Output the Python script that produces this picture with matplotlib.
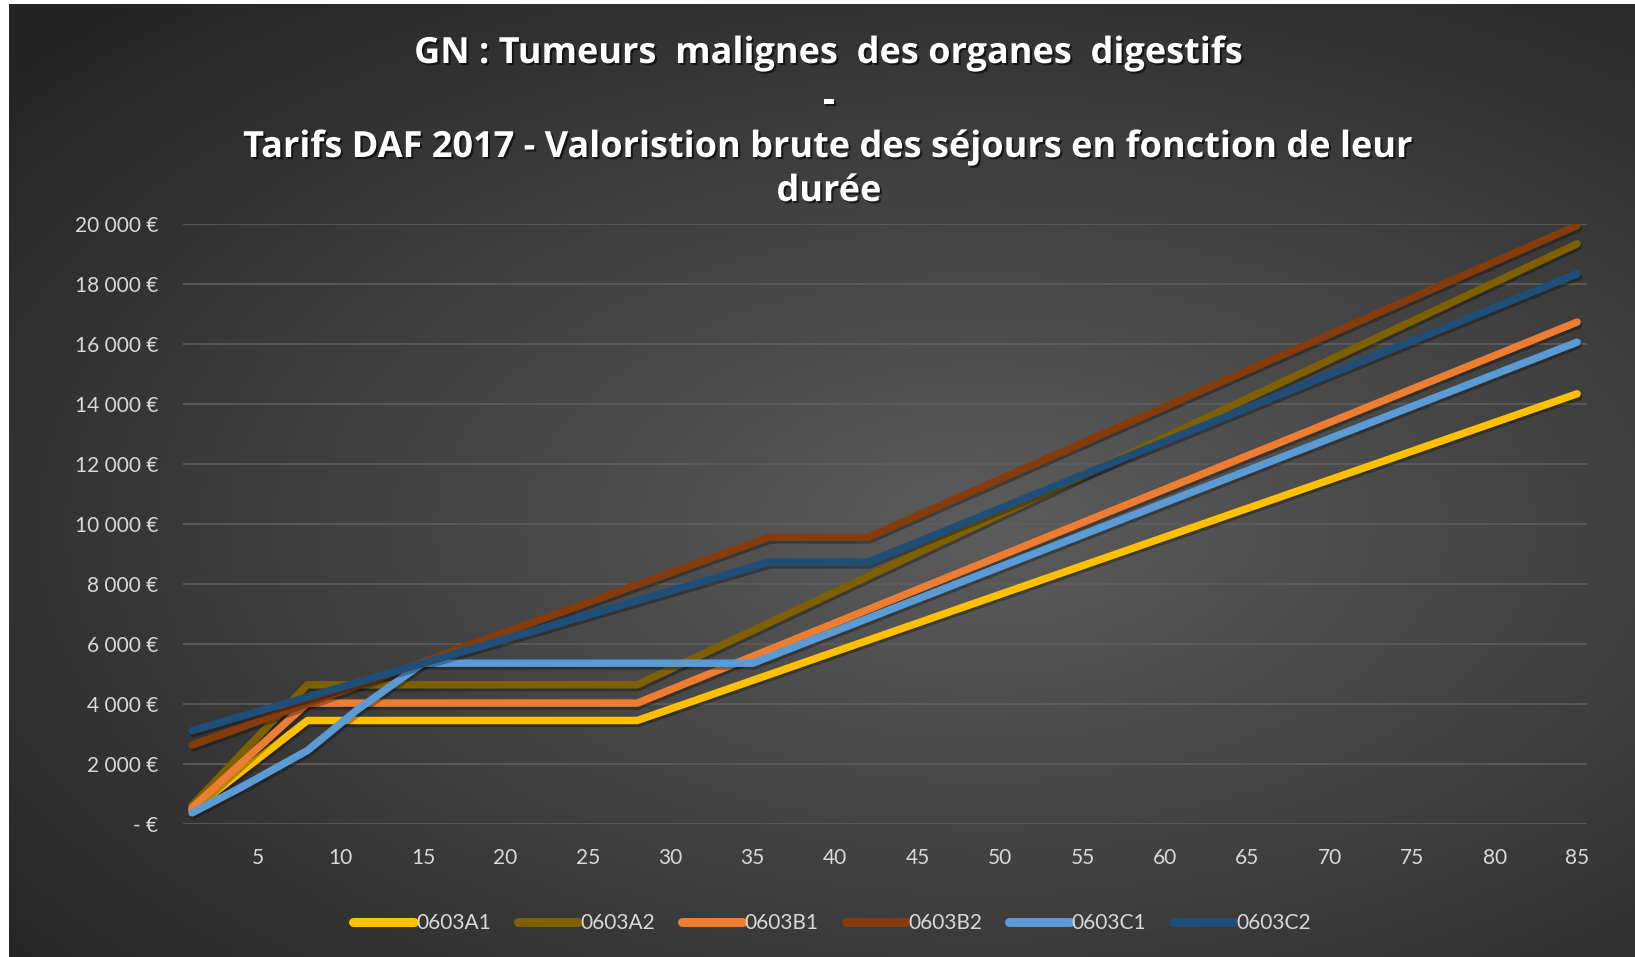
import numpy as np
import matplotlib
matplotlib.use('Agg')
import matplotlib.pyplot as plt
import matplotlib.patheffects as pe
from matplotlib.ticker import FuncFormatter

# values (euros), at the days where each line bends
series_names = ['0603A1', '0603A2', '0603B1', '0603B2', '0603C1', '0603C2']
days_A1 = [1, 8, 28, 85]
vals_A1 = [470, 3450, 3450, 14340]
days_A2 = [1, 8, 28, 85]
vals_A2 = [620, 4640, 4640, 19340]
days_B1 = [1, 8, 28, 85]
vals_B1 = [540, 4030, 4030, 16730]
days_B2 = [1, 36, 42, 85]
vals_B2 = [2630, 9560, 9560, 19950]
days_C1 = [1, 4, 8, 11, 15, 35, 85]
vals_C1 = [370, 1230, 2450, 3800, 5360, 5360, 16060]
days_C2 = [1, 36, 42, 85]
vals_C2 = [3110, 8730, 8730, 18340]

x_ticks = list(range(5, 90, 5))
y_ticks = list(range(0, 20001, 2000))

colors = ['#FFC000', '#7F6000', '#ED7D31', '#843C0C', '#5B9BD5', '#1F4E79']

W, H = 1635, 957
fig = plt.figure(figsize=(W / 100, H / 100), dpi=100)
fig.patch.set_facecolor('white')

# dark radial background like the Excel style
bg = fig.add_axes([9 / W, 0, 1 - 9 / W, 1 - 4 / H])
bg.set_axis_off()
yy, xx = np.mgrid[0:1:300j, 0:1:520j]
d = np.sqrt(((xx - 0.6) / 0.8) ** 2 + ((yy - 0.55) / 0.75) ** 2)
g = np.clip(1 - d, 0, 1)
shade = 0.14 + 0.22 * g
img = np.dstack([shade, shade, shade])
bg.imshow(img, aspect='auto', extent=[0, 1, 0, 1], interpolation='bilinear')
bg.set_xlim(0, 1)
bg.set_ylim(0, 1)

ax = fig.add_axes([183 / W, 1 - 824 / H, (1587 - 183) / W, (824 - 224) / H])
ax.patch.set_alpha(0)

shadow = [pe.SimpleLineShadow(offset=(1, -2), shadow_color='black', alpha=0.3), pe.Normal()]
all_days = [days_A1, days_A2, days_B1, days_B2, days_C1, days_C2]
all_vals = [vals_A1, vals_A2, vals_B1, vals_B2, vals_C1, vals_C2]
for name, dd, vv, c in zip(series_names, all_days, all_vals, colors):
    ax.plot(dd, vv, color=c, lw=5.4, label=name, solid_capstyle='round',
            solid_joinstyle='round', path_effects=shadow, zorder=3)

ax.set_xlim(0.45, 85.6)
ax.set_ylim(0, 20000)
ax.set_xticks(x_ticks)
ax.set_yticks(y_ticks)

def euro(v, pos):
    if v == 0:
        return '- €'
    return '{:,.0f} €'.format(v).replace(',', ' ')

ax.yaxis.set_major_formatter(FuncFormatter(euro))
ax.tick_params(axis='both', length=0, colors='#d9d9d9', labelsize=15)
ax.tick_params(axis='y', pad=18)
ax.tick_params(axis='x', pad=17)
for lab in ax.get_xticklabels() + ax.get_yticklabels():
    lab.set_family(['Lato', 'DejaVu Sans'])
ax.grid(axis='y', color='#5e5e5e', lw=1.2, zorder=0)
ax.set_axisbelow(True)
for s in ax.spines.values():
    s.set_visible(False)

title_fx = [pe.SimplePatchShadow(offset=(1.5, -1.5), shadow_rgbFace='black', alpha=0.6), pe.Normal()]
title_lines = ['GN : Tumeurs  malignes  des organes  digestifs', '-',
               'Tarifs DAF 2017 - Valoristion brute des séjours en fonction de leur', 'durée']
title_y = [54, 102, 148, 192]
for t, ty in zip(title_lines, title_y):
    fig.text(829 / W, 1 - ty / H, t, ha='center', va='center', color='white',
             fontsize=26, fontweight='bold', family=['Open Sans', 'DejaVu Sans'],
             path_effects=title_fx)

leg = ax.legend(loc='center', bbox_to_anchor=(832 / W, 1 - 923 / H),
                bbox_transform=fig.transFigure, ncol=6, frameon=False,
                handlelength=2.9, handletextpad=0.1, columnspacing=1.3,
                prop={'family': 'Lato', 'size': 15})
for t in leg.get_texts():
    t.set_color('#d9d9d9')
for h in leg.legend_handles:
    h.set_linewidth(6.5)
    h.set_solid_capstyle('round')
    h.set_path_effects([])

fig.savefig('out.png', dpi=100, facecolor=fig.get_facecolor())
